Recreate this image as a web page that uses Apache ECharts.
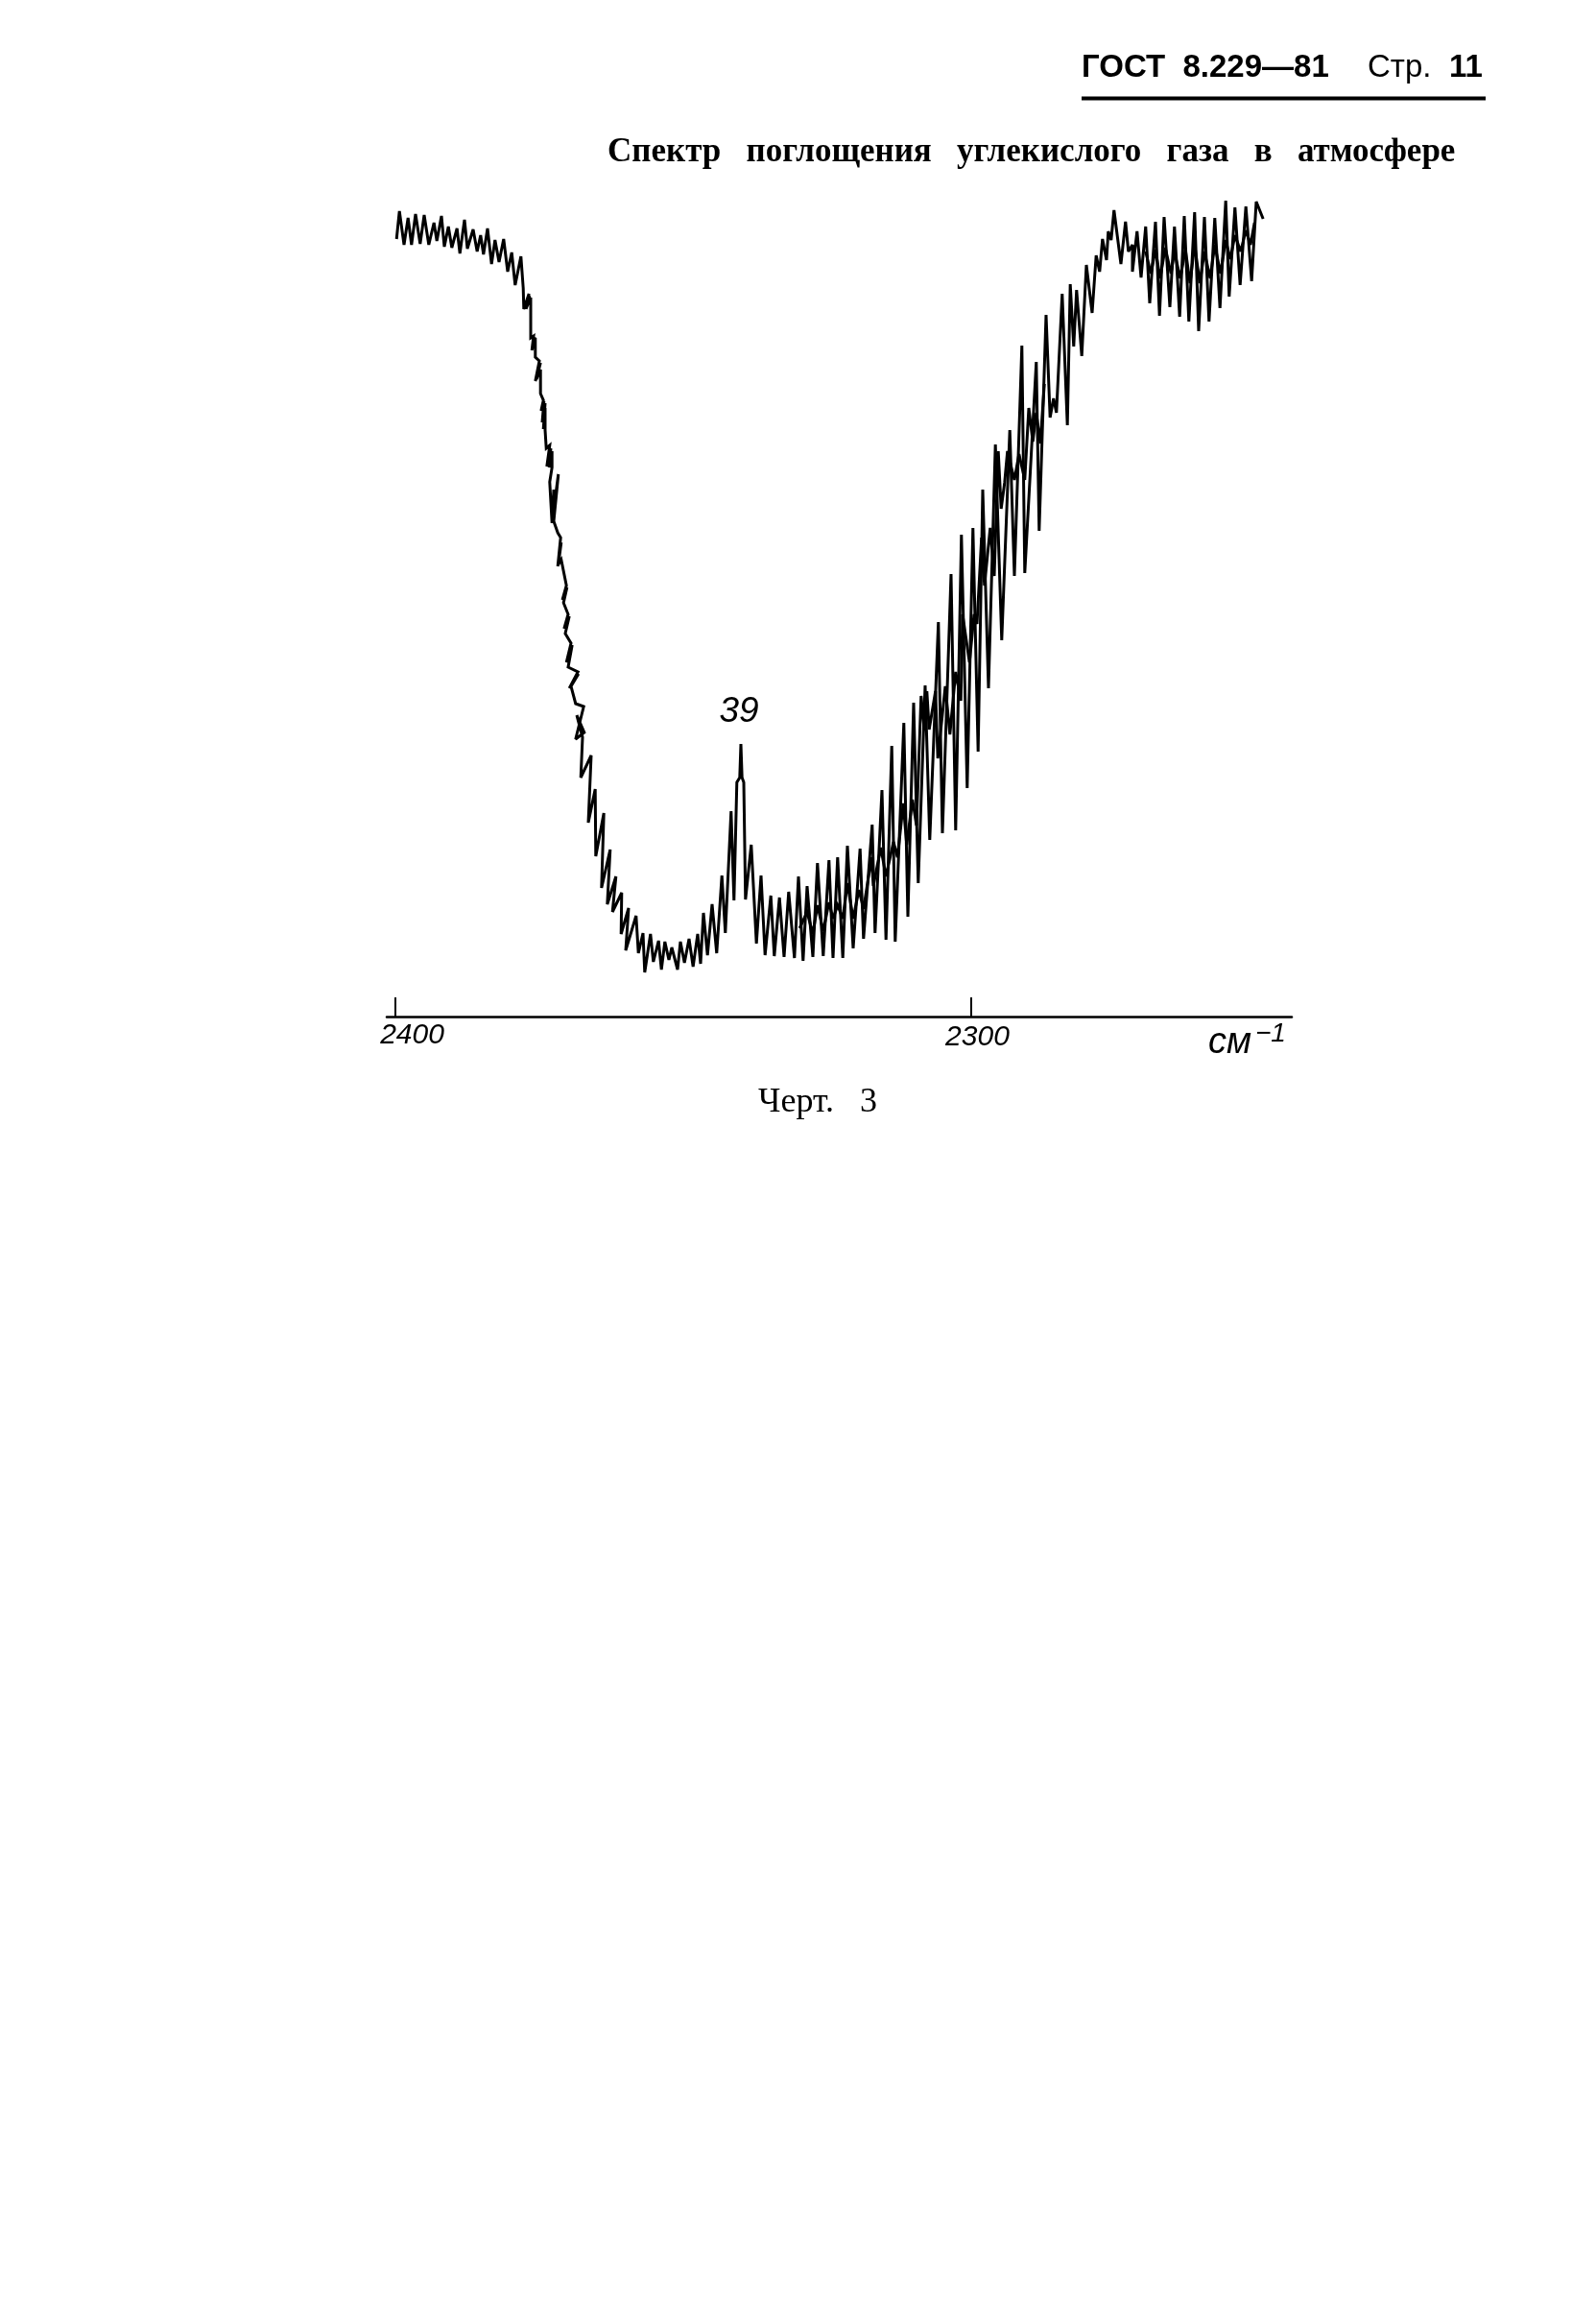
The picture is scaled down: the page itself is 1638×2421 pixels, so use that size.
<!DOCTYPE html>
<html><head><meta charset="utf-8">
<style>html,body{margin:0;padding:0;background:#fff}#c{width:1638px;height:2421px}</style>
<script src="https://cdn.jsdelivr.net/npm/echarts@6/dist/echarts.min.js"></script>
</head><body><div id="c"></div>
<script>
const titleText = 'Спектр   поглощения   углекислого   газа   в   атмосфере';
const headerCode = 'ГОСТ  8.229—81';
const headerPage = 'Стр.';
const headerPageNo = '11';
const captionText = 'Черт.   3';
const unitText = 'см';
const unitPower = '−1';
const tickValues = [2400, 2300];
const peakLabel = '39';
const peakPoint = [2340.0, 284];

const wavenumbers = [
2399.8,2399.3,2398.5,2397.8,2397.2,2396.5,2395.7,2395.0,2394.2,2393.3,2392.8,2392.0,2391.5,2390.8,2390.2,2389.3,2388.8,2388.0,2387.5,2386.5,2385.8,2385.2,2384.7,2384.0,2383.3,2382.7,2382.0,2381.2,2380.5,2379.8,2379.2,2378.2,
2377.8,2377.7,2376.8,2377.3,2376.7,2377.2,2376.5,2376.5,2376.5,2376.0,2376.3,2375.8,2376.2,2375.7,2375.7,2375.0,2375.7,2374.8,2375.5,2374.8,2374.8,2374.3,2374.7,2374.2,2374.5,2374.0,2374.3,2374.0,2374.0,2373.8,2373.2,2373.7,2373.0,2373.3,2372.8,2372.8,2373.2,2372.8,2372.5,2372.7,2371.7,2372.5,2371.8,2371.3,2371.8,2371.2,2371.7,2371.2,2370.3,2371.0,2370.2,2370.8,2370.0,2370.7,2369.8,2370.5,2369.5,2370.3,2369.3,2370.0,2368.3,2369.8,2368.2,2369.5,2368.7,2367.3,2368.7,2367.2,2368.5,2367.5,
2367.8,2366.0,2366.5,2365.3,2365.2,2363.8,2364.2,2362.7,2363.2,2361.7,2362.3,2360.7,2360.8,2359.5,2360.0,2358.2,2357.8,2357.0,2356.7,2355.7,2355.2,2354.3,2353.8,2353.2,2352.5,2352.0,2351.0,2350.5,2349.8,2349.0,2348.3,2347.5,2347.0,2346.5,2345.8,2345.0,2344.2,2343.3,2342.7,2341.7,2341.2,2340.7,2340.2,2340.0,2339.8,2339.5,2339.2,2338.2,2337.3,2336.5,2335.8,2334.8,2334.2,2333.3,2332.5,2331.7,2330.7,2330.0,2329.2,2328.5,2327.5,2326.7,2325.7,2324.7,2324.0,2323.2,2322.3,2321.5,2320.5,2319.3,2318.7,2317.2,2316.7,2315.5,2314.8,2313.8,2313.2,2311.7,2311.0,2310.0,2309.2,2308.0,2307.2,2305.7,2305.0,2303.5,2302.7,2301.7,2300.7,2299.7,2298.8,2298.0,2297.0,2295.8,2294.7,2293.3,2292.5,2291.2,2290.7,2288.7,2288.2,2287.0,2286.3,2285.7,2285.2,2284.2,2283.3,2282.8,2282.2,2281.7,2280.8,2280.0,2279.0,2278.3,2277.7,2277.2,2276.5,2276.2,2275.7,2275.2,2274.0,2273.2,2272.7,2272.0,2272.0,2271.2,2270.5,2269.7,2269.0,2268.0,2267.3,2266.5,2265.5,2264.7,2263.8,2263.0,2262.2,2261.2,2260.5,2259.5,2258.7,2257.7,2256.8,2255.8,2255.2,2254.2,2253.3,2252.3,2251.3,2250.5,2249.3
];
const transmission = [
810,839,804,832,804,836,805,835,804,827,808,834,802,823,801,821,795,830,800,820,797,814,794,821,784,809,786,810,776,796,762,792,
759,737,753,737,751,739,749,722,707,709,694,708,696,707,687,683,662,681,664,674,649,642,631,641,619,639,612,634,611,592,595,573,592,572,589,572,557,514,549,519,565,516,504,499,469,494,471,476,449,434,447,431,419,404,417,399,389,369,387,364,359,342,357,344,326,323,289,296,314,291,
249,272,202,237,167,212,134,174,117,146,109,129,86,113,69,105,66,87,46,86,57,79,49,78,59,72,49,78,56,81,52,86,55,108,64,117,66,147,87,214,121,244,249,284,249,244,122,179,76,147,64,126,63,124,62,130,61,146,58,136,62,160,63,163,61,166,61,178,71,175,81,200,87,236,80,282,78,306,104,327,139,345,184,411,191,461,194,502,238,509,276,549,342,596,392,611,459,699,462,682,506,731,624,644,629,753,616,763,698,757,688,783,733,793,776,810,788,818,809,840,784,828,797,804,776,818,770,823,743,828,730,833,739,823,729,834,724,838,714,833,724,832,738,850,750,843,762,844,766,849,831
];
const innerRiseWavenumbers = [2329.8,2328.5,2327.5,2326.7,2325.7,2324.7,2324.0,2323.2,2322.3,2321.5,2320.5,2319.5,2318.7,2317.3,2317.0,2315.7,2314.8,2313.5,2312.8,2311.8,2311.2,2310.2,2309.5,2308.7,2308.2,2307.7,2307.3,2306.2,2305.8,2304.5,2303.7,2302.7,2301.8,2301.5,2300.3,2299.5,2299.0,2298.2,2297.7,2296.7,2296.0,2295.3,2294.8,2294.2,2293.7,2292.5,2291.7,2290.7,2290.0,2289.3,2288.7,2288.0,2287.3];
const innerRiseValues = [92,109,86,116,89,119,102,116,102,139,102,132,112,166,136,176,146,182,166,222,179,226,199,334,302,339,299,339,269,344,294,359,329,419,369,419,409,499,449,509,459,589,529,556,589,559,586,559,634,599,629,597,659];
const innerTopWavenumbers = [2269.7,2268.8,2268.0,2267.2,2266.3,2265.3,2264.7,2263.7,2262.8,2262.0,2261.2,2260.3,2259.5,2258.5,2257.7,2256.7,2255.8,2255.0,2254.2,2253.2,2252.3,2251.5,2250.8];
const innerTopValues = [797,774,799,769,801,774,797,769,799,764,804,764,797,769,804,774,809,789,814,797,819,804,827];

const chart = echarts.init(document.getElementById('c'), null, {renderer:'canvas'});
const serif = '"Liberation Serif"', sans = '"Liberation Sans"';
function txt(x, y, text, size, family, weight, style){
  return {type:'text', x, y, style:{text, fill:'#000', font:`${style||'normal'} ${weight||'normal'} ${size}px ${family}`, textVerticalAlign:'middle', textAlign:'left'}};
}
const traceStyle = {color:'#000', width:3, join:'miter', miterLimit:3};
const zip = (a,b) => a.map((w,i)=>[w,b[i]]);
chart.setOption({
  animation:false,
  backgroundColor:'#fff',
  grid:{left:403, top:159, width:943, height:900},
  xAxis:{
    type:'value', inverse:true, min:2244.33, max:2401.5,
    splitLine:{show:false}, minorTick:{show:false},
    axisLine:{show:true, onZero:false, lineStyle:{color:'#000', width:2.5}},
    axisTick:{show:true, inside:true, length:20, customValues:tickValues, lineStyle:{color:'#000', width:2}},
    axisLabel:{show:true, customValues:tickValues, margin:5, showMinLabel:true, showMaxLabel:true,
      formatter:v => (v === tickValues[0] ? `{a|${v}}` : `{b|${v}}`),
      rich:{
        a:{padding:[0,0,0,35], fontFamily:sans, fontStyle:'italic', fontSize:30, color:'#000'},
        b:{padding:[2,0,0,13], fontFamily:sans, fontStyle:'italic', fontSize:30, color:'#000'}
      }}
  },
  yAxis:{type:'value', min:0, max:900, show:false},
  series:[{
    type:'line', symbol:'none', showSymbol:false, clip:false, lineStyle:traceStyle,
    data:zip(wavenumbers, transmission),
    markPoint:{symbol:'circle', symbolSize:0, silent:true, animation:false,
      data:[{coord:peakPoint, value:peakLabel,
        label:{show:true, formatter:peakLabel, position:'inside', offset:[-2,-33], fontFamily:sans, fontStyle:'italic', fontSize:37, color:'#000'}}]}
  },{
    type:'line', symbol:'none', showSymbol:false, clip:false, lineStyle:traceStyle,
    data:zip(innerRiseWavenumbers, innerRiseValues)
  },{
    type:'line', symbol:'none', showSymbol:false, clip:false, lineStyle:traceStyle,
    data:zip(innerTopWavenumbers, innerTopValues)
  }],
  graphic:[
    txt(1127,71,headerCode,33,sans,'bold'),
    txt(1425,71,headerPage,33,sans),
    txt(1510,71,headerPageNo,33,sans,'bold'),
    {type:'rect', shape:{x:1127,y:100.5,width:421,height:4}, style:{fill:'#000'}},
    txt(633,159,titleText,35,serif,'bold'),
    txt(790,1149,captionText,36,serif),
    txt(1259,1086,unitText,38,sans,'normal','italic'),
    txt(1308,1077,unitPower,28,sans,'normal','italic')
  ]
});
</script></body></html>
